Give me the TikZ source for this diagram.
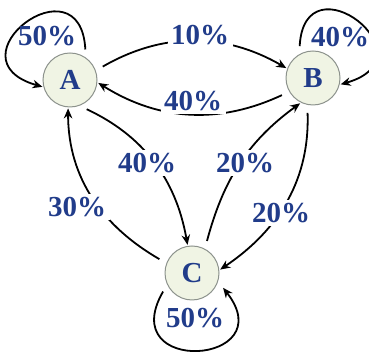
\documentclass[tikz,border=0pt]{standalone}
\usepackage{fontspec}
\setmainfont{Liberation Serif}
\usepackage{tikz}
\usetikzlibrary{arrows.meta,positioning}
\definecolor{chainBlue}{RGB}{33,60,138}
\definecolor{chainFill}{RGB}{240,244,228}
\definecolor{chainGray}{RGB}{140,146,140}

\begin{document}
\begin{tikzpicture}[x=1pt,y=1pt,
  state/.style={circle, draw=chainGray, line width=1pt, fill=chainFill, minimum size=54pt, inner sep=0pt, text=chainBlue, font=\bfseries\fontsize{29}{30}\selectfont},
  prob/.style={fill=white, inner sep=3.5pt, text=chainBlue, font=\bfseries\fontsize{29}{30}\selectfont},
  trans/.style={line width=1.8pt, -{Stealth[length=10pt,width=8.5pt]}, shorten <=8pt, shorten >=1pt}]
\useasboundingbox (0,0) rectangle (369,352);

\node[state] (A) at (70,272) {A};
\node[state] (B) at (313,274) {B};
\node[state] (C) at (192,79) {C};

% transitions
\draw[trans] (A.20) to[out=30,in=150] (B.160);
\draw[trans] (B.210) to[out=205,in=-32] (A.-5);
\draw[trans] (A.-70) to[out=-25,in=100] (C.99);
\draw[trans] (C.159) to[out=150,in=-90] (A.-94);
\draw[trans] (C.62) to[out=75,in=216] (B.244);
\draw[trans] (B.258) to[out=272,in=34] (C.6);

% self loops
\draw[trans] (A.55) to[out=93,in=164,looseness=5] (A.195);
\draw[trans] (B.120) to[out=87,in=16,looseness=5] (B.-14);
\draw[trans, shorten >=8pt] (C.205) to[out=240,in=-52,looseness=5.3] (C.-18);

\node[prob, fill=none] (pAA) at (47,316) {50\%};
\node[prob] (pAB) at (200,317) {10\%};
\node[prob, fill=none] (pBB) at (340,315) {40\%};
\node[prob] (pBA) at (193,251) {40\%};
\node[prob] (pAC) at (147,189) {40\%};
\node[prob] (pCB) at (245,189) {20\%};
\node[prob] (pCA) at (77,145) {30\%};
\node[prob] (pBC) at (281,139) {20\%};
\node[prob, fill=none] (pCC) at (195,34) {50\%};
\end{tikzpicture}
\end{document}
